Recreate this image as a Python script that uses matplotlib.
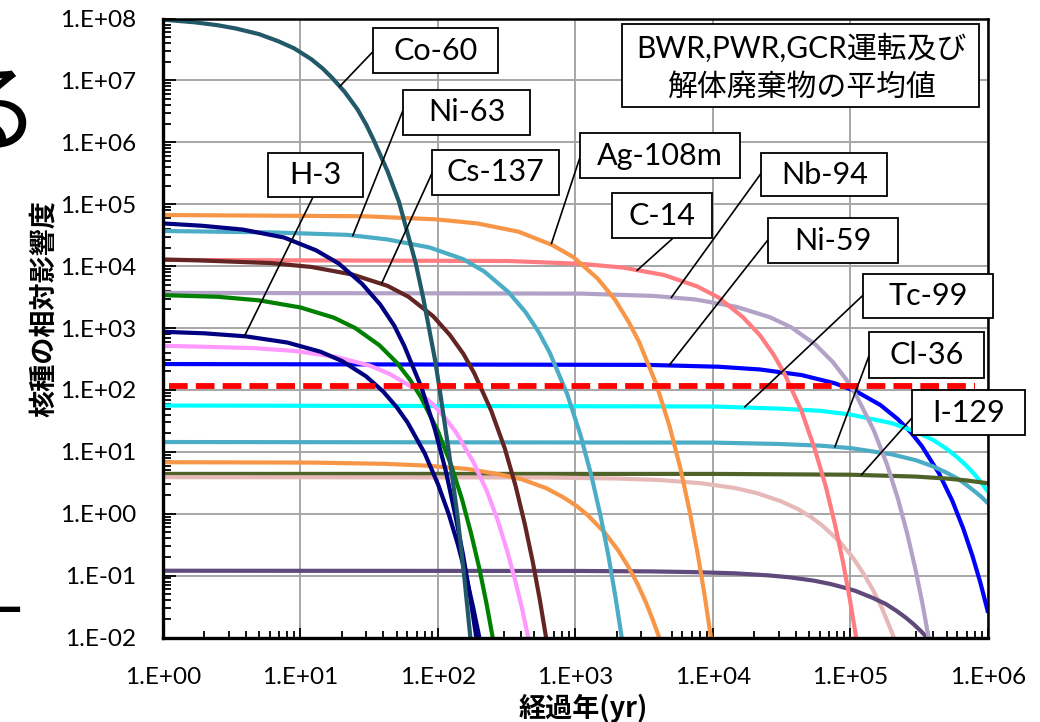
import numpy as np
import matplotlib.pyplot as plt
from matplotlib.patches import Rectangle
from matplotlib.ticker import LogLocator, FuncFormatter, NullFormatter

plt.rcParams['font.family'] = ['Lato', 'Noto Sans CJK JP', 'DejaVu Sans']

# 図から読み取った値: 経過年(yr) と 核種の相対影響度
t_co60 = [1, 1.7, 2.5, 3.4, 5, 6.9, 9, 12, 14.5, 17, 21, 26, 30, 34, 43, 52, 60, 69, 78, 86, 95, 103, 120, 138, 155, 172, 181]
v_co60 = [9.6e7, 8.7e7, 7.8e7, 6.9e7, 5.6e7, 4.3e7, 3.3e7, 2.2e7, 1.56e7, 1.1e7, 6.5e6, 3.4e6, 1.95e6, 1.1e6,
          3.4e5, 1.1e5, 3.45e4, 1.1e4, 3.1e3, 1.0e3, 313, 1.0e2, 10, 1.0, 0.1, 0.01, 0.003]

t_eu154 = [1, 1.9, 3.8, 7.6, 13, 19, 28, 38, 48, 57, 76, 95, 114, 133, 152, 171, 190, 200]
v_eu154 = [4.9e4, 4.5e4, 3.9e4, 2.9e4, 1.8e4, 1.1e4, 5.2e3, 2.4e3, 1.1e3, 510, 108, 23, 4.9, 1.0, 0.22, 0.047, 0.01, 0.0046]

t_ni63 = [1, 6.5, 22, 43, 87, 152, 217, 326, 434, 543, 651, 868, 1085, 1302, 1519, 1736, 1953, 2170, 2280]
v_ni63 = [3.7e4, 3.5e4, 3.2e4, 2.7e4, 2.0e4, 1.3e4, 8.2e3, 3.8e3, 1.8e3, 845, 396, 87, 19, 4.2, 0.94, 0.21, 0.045, 0.01, 0.0047]

t_ag108m = [1, 29, 97, 193, 386, 676, 966, 1449, 1932, 2415, 2898, 3864, 4830, 5796, 6762, 7728, 8694, 9660, 10140]
v_ag108m = [6.7e4, 6.4e4, 5.7e4, 4.9e4, 3.6e4, 2.2e4, 1.4e4, 6.3e3, 2.9e3, 1.3e3, 600, 125, 26, 5.4, 1.1, 0.23, 0.048, 0.01, 0.0046]

t_c14 = [1, 330, 1100, 2200, 4400, 7700, 1.1e4, 1.65e4, 2.2e4, 2.75e4, 3.3e4, 4.4e4, 5.5e4, 6.6e4, 7.7e4, 8.8e4, 9.9e4, 1.1e5, 1.155e5]
v_c14 = [1.26e4, 1.21e4, 1.09e4, 9.5e3, 7.2e3, 4.7e3, 3.1e3, 1.5e3, 760, 376, 186, 46, 11, 2.8, 0.68, 0.17, 0.041, 0.01, 0.005]

t_cs137 = [1, 1.8, 6.1, 12, 24, 43, 61, 92, 122, 153, 183, 244, 306, 367, 428, 489, 550, 611, 642]
v_cs137 = [1.28e4, 1.24e4, 1.12e4, 9.7e3, 7.3e3, 4.8e3, 3.2e3, 1.56e3, 773, 383, 189, 46, 11.4, 2.8, 0.68, 0.167, 0.041, 0.01, 0.0049]

t_nb94 = [1, 1110, 3700, 7400, 1.48e4, 2.59e4, 3.7e4, 5.55e4, 7.4e4, 9.25e4, 1.11e5, 1.48e5, 1.85e5, 2.22e5, 2.59e5, 2.96e5, 3.33e5, 3.7e5, 3.885e5]
v_nb94 = [3.7e3, 3.6e3, 3.3e3, 2.9e3, 2.2e3, 1.5e3, 1.03e3, 543, 286, 151, 79, 22, 6.1, 1.7, 0.47, 0.13, 0.036, 0.01, 0.0053]

t_eu152 = [1, 2.5, 5, 10, 17.5, 25, 37.5, 50, 62.5, 75, 100, 125, 150, 175, 200, 225, 250, 262]
v_eu152 = [3.4e3, 3.2e3, 2.8e3, 2.15e3, 1.47e3, 1.0e3, 527, 278, 147, 77, 21.5, 6.0, 1.67, 0.46, 0.13, 0.036, 0.01, 0.0053]

t_h3 = [1, 2, 4, 8, 14, 20, 30, 40, 50, 60, 80, 100, 120, 140, 160, 180, 200, 210]
v_h3 = [870, 822, 734, 584, 414, 294, 166, 94, 53, 30, 9.5, 3.0, 0.97, 0.31, 0.098, 0.031, 0.01, 0.0056]

t_sr90 = [1, 4.5, 9.1, 18, 32, 45, 68, 91, 113, 136, 181, 227, 272, 317, 362, 408, 453, 476]
v_sr90 = [518, 475, 426, 343, 247, 179, 104, 60, 35, 20.3, 6.8, 2.3, 0.78, 0.26, 0.088, 0.030, 0.01, 0.0058]

t_ni59 = [1, 3300, 1.1e4, 2.2e4, 4.4e4, 7.7e4, 1.1e5, 1.65e5, 2.2e5, 2.75e5, 3.3e5, 4.4e5, 5.5e5, 6.6e5, 7.7e5, 8.8e5, 9.9e5, 1e6]
v_ni59 = [262, 254, 237, 214, 174, 128, 95, 57, 34, 20.6, 12.4, 4.5, 1.62, 0.58, 0.21, 0.077, 0.028, 0.025]

t_tc99 = [1, 1e4, 3e4, 6e4, 1e5, 2e5, 3e5, 4e5, 5e5, 6e5, 7e5, 8e5, 9e5, 1e6]
v_tc99 = [56, 54, 50, 46, 40, 29, 21, 15.5, 11.2, 8.1, 5.9, 4.3, 3.1, 2.26]

t_cl36 = [1, 1e4, 3e4, 6e4, 1e5, 2e5, 3e5, 4e5, 5e5, 6e5, 7e5, 8e5, 9e5, 1e6]
v_cl36 = [14.4, 14.1, 13.4, 12.6, 11.5, 9.1, 7.3, 5.8, 4.6, 3.7, 2.9, 2.3, 1.85, 1.47]

t_i129 = [1, 1e4, 1e5, 3e5, 5e5, 7e5, 1e6]
v_i129 = [4.4, 4.4, 4.27, 3.98, 3.7, 3.45, 3.1]

t_am241 = [1, 12, 41, 81, 163, 285, 407, 610, 813, 1016, 1220, 1626, 2033, 2439, 2846, 3252, 3659, 4065, 4268]
v_am241 = [6.8, 6.7, 6.4, 6.0, 5.3, 4.3, 3.6, 2.6, 1.85, 1.34, 0.96, 0.50, 0.26, 0.136, 0.071, 0.037, 0.019, 0.01, 0.0072]

t_pu239 = [1, 621, 2070, 4140, 8280, 1.45e4, 2.07e4, 3.1e4, 4.14e4, 5.18e4, 6.21e4, 8.28e4, 1.035e5, 1.24e5, 1.45e5, 1.66e5, 1.86e5, 2.07e5, 2.17e5]
v_pu239 = [3.9, 3.85, 3.7, 3.5, 3.1, 2.6, 2.16, 1.6, 1.19, 0.88, 0.65, 0.36, 0.198, 0.109, 0.06, 0.033, 0.018, 0.01, 0.0074]

t_ca41 = [1, 1080, 3600, 7200, 1.44e4, 2.52e4, 3.6e4, 5.4e4, 7.2e4, 9e4, 1.08e5, 1.44e5, 1.8e5, 2.16e5, 2.52e5, 2.88e5, 3.24e5, 3.6e5, 3.78e5]
v_ca41 = [0.12, 0.119, 0.117, 0.114, 0.109, 0.101, 0.094, 0.083, 0.073, 0.064, 0.057, 0.044, 0.035, 0.027, 0.021, 0.0164, 0.0128, 0.01, 0.0088]

t_limit = [1.1, 8e5]
v_limit = [116, 116]

series = [
    (t_ni59, v_ni59, '#0000FF'),
    (t_tc99, v_tc99, '#00FFFF'),
    (t_cl36, v_cl36, '#4BACC6'),
    (t_i129, v_i129, '#4F6228'),
    (t_pu239, v_pu239, '#E6B9B8'),
    (t_ca41, v_ca41, '#604A7B'),
    (t_am241, v_am241, '#F79646'),
    (t_nb94, v_nb94, '#B3A2C7'),
    (t_c14, v_c14, '#FF7C80'),
    (t_ag108m, v_ag108m, '#F79646'),
    (t_ni63, v_ni63, '#4BACC6'),
    (t_cs137, v_cs137, '#632523'),
    (t_sr90, v_sr90, '#FF99FF'),
    (t_eu152, v_eu152, '#008000'),
    (t_h3, v_h3, '#000080'),
    (t_eu154, v_eu154, '#000080'),
    (t_co60, v_co60, '#215968'),
]

# ラベル: 名前, 指す点, 枠(軸座標 x0, y0, w, h), 引出線の始点(軸座標)
labels = [
    ('Co-60', (19.3, 8e6), (0.2545, 0.912, 0.1515, 0.0727), (0.2545, 0.9465)),
    ('Ni-63', (24, 3.1e4), (0.291, 0.812, 0.154, 0.0727), (0.291, 0.852)),
    ('H-3', (3.9, 730), (0.127, 0.712, 0.116, 0.071), (0.182, 0.712)),
    ('Cs-137', (39, 5.3e3), (0.326, 0.715, 0.154, 0.0727), (0.326, 0.750)),
    ('Ag-108m', (668, 2.3e4), (0.5055, 0.7423, 0.194, 0.0727), (0.5055, 0.776)),
    ('C-14', (2800, 8.5e3), (0.544, 0.645, 0.121, 0.0727), (0.618, 0.645)),
    ('Nb-94', (4970, 3.1e3), (0.725, 0.713, 0.153, 0.0695), (0.725, 0.750)),
    ('Ni-59', (4800, 250), (0.733, 0.605, 0.158, 0.0727), (0.733, 0.642)),
    ('Tc-99', (1.7e4, 53), (0.8485, 0.516, 0.1576, 0.071), (0.8485, 0.553)),
    ('Cl-36', (7.7e4, 12), (0.856, 0.419, 0.139, 0.0743), (0.856, 0.456)),
    ('I-129', (1.2e5, 4.25), (0.908, 0.327, 0.137, 0.0727), (0.908, 0.355)),
]

fig = plt.figure(figsize=(10.4, 7.22), dpi=100)
ax = fig.add_axes([0.1567, 0.117, 0.7933, 0.8573])

for t, v, c in series:
    ax.plot(t, v, color=c, lw=3.0, solid_capstyle='butt', solid_joinstyle='round')
ax.plot(t_limit, v_limit, color='#FF0000', lw=4.2, dashes=(3.2, 1.4), zorder=3)

ax.set_xscale('log')
ax.set_yscale('log')
ax.set_xlim(1, 1e6)
ax.set_ylim(1e-2, 1e8)

fmt = FuncFormatter(lambda v, pos: f"1.E{int(round(np.log10(v))):+03d}")
for axis in (ax.xaxis, ax.yaxis):
    axis.set_major_locator(LogLocator(base=10, numticks=20))
    axis.set_minor_locator(LogLocator(base=10, subs=np.arange(2, 10), numticks=20))
    axis.set_major_formatter(fmt)
    axis.set_minor_formatter(NullFormatter())

ax.grid(which='major', color='#a6a6a6', lw=1.4)
ax.set_axisbelow(True)
ax.tick_params(which='both', direction='in', width=1.3, labelsize=17.5)
ax.tick_params(axis='y', which='major', length=9, pad=19)
ax.tick_params(axis='y', which='minor', length=6)
ax.tick_params(axis='x', which='major', length=7, pad=21)
ax.tick_params(axis='x', which='minor', length=5)
for s in ax.spines.values():
    s.set_linewidth(1.8)
ax.spines['left'].set_linewidth(2.4)
ax.spines['bottom'].set_linewidth(2.4)

ax.set_ylabel('核種の相対影響度', fontsize=19.5, fontweight='bold', family=['Noto Sans CJK JP'])
ax.yaxis.set_label_coords(-0.127, 0.531)
ax.set_xlabel('経過年(yr)', fontsize=19.5, fontweight='bold', family=['Noto Sans CJK JP'])
ax.xaxis.set_label_coords(0.509, -0.091)

for name, xy, box, start in labels:
    ax.annotate('', xy=xy, xycoords='data', xytext=start, textcoords='axes fraction',
                arrowprops=dict(arrowstyle='-', color='black', lw=1.2, shrinkA=0, shrinkB=0),
                zorder=6, annotation_clip=False)
    x0, y0, w, h = box
    ax.add_patch(Rectangle((x0, y0), w, h, transform=ax.transAxes, facecolor='white',
                           edgecolor='black', lw=1.3, zorder=7, clip_on=False))
    ax.text(x0 + w / 2, y0 + h / 2, name, transform=ax.transAxes, ha='center', va='center',
            fontsize=22, zorder=8, clip_on=False)

ax.add_patch(Rectangle((0.556, 0.857), 0.433, 0.134, transform=ax.transAxes, facecolor='white',
                       edgecolor='black', lw=1.3, zorder=7, clip_on=False))
ax.text(0.7735, 0.922, 'BWR,PWR,GCR運転及び\n解体廃棄物の平均値', transform=ax.transAxes,
        ha='center', va='center', fontsize=21.5, linespacing=1.45, zorder=8)

# 左端で切れているスライドの文字
fig.text(-0.056, 0.80, 'る', fontsize=70, family=['Noto Sans CJK JP'])
fig.text(-0.045, 0.115, '十', fontsize=50, family=['Noto Sans CJK JP'])

fig.savefig('out.png', dpi=100)
